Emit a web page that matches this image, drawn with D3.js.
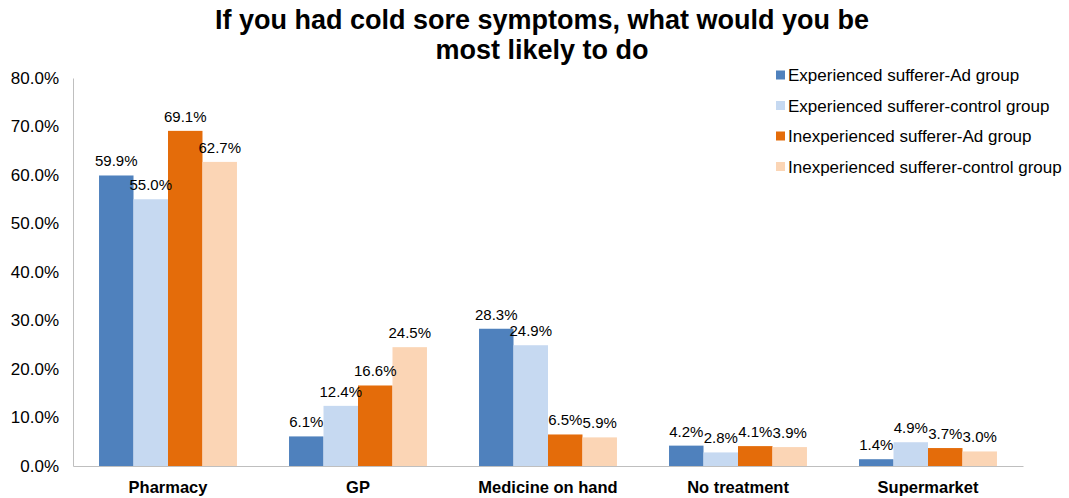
<!DOCTYPE html>
<html><head><meta charset="utf-8">
<script src="https://cdn.jsdelivr.net/npm/d3@7/dist/d3.min.js"></script>
<style>body{margin:0;background:#fff}svg{display:block}text{font-family:"Liberation Sans",Arial,sans-serif}</style>
</head><body><svg id="c" width="1069" height="498"></svg>
<script>
const categories = ["Pharmacy","GP","Medicine on hand","No treatment","Supermarket"];
const seriesNames = ["Experienced sufferer-Ad group","Experienced sufferer-control group","Inexperienced sufferer-Ad group","Inexperienced sufferer-control group"];
const expAd = [59.9, 6.1, 28.3, 4.2, 1.4];
const expCtrl = [55.0, 12.4, 24.9, 2.8, 4.9];
const inexpAd = [69.1, 16.6, 6.5, 4.1, 3.7];
const inexpCtrl = [62.7, 24.5, 5.9, 3.9, 3.0];
const yTicks = [0,10,20,30,40,50,60,70,80];
const colors = ["#4F81BD","#C6D9F1","#E46C0A","#FBD5B5"];
const titleLines = ["If you had cold sore symptoms, what would you be","most likely to do"];

const series = [expAd, expCtrl, inexpAd, inexpCtrl];
const svg = d3.select("#c");
const mLeft = 73, mRight = 1023, mTop = 78, mBottom = 466;

const x = d3.scaleBand().domain(categories).range([mLeft, mRight]).paddingInner(0.274).paddingOuter(0.137);
const xs = d3.scaleBand().domain(d3.range(4)).range([0, x.bandwidth()]);
const y = d3.scaleLinear().domain([0, 80]).range([mBottom, mTop]);

// title
svg.append("g").selectAll("text").data(titleLines).join("text")
  .attr("x", 542).attr("y", (d,i) => 29 + i*30)
  .attr("text-anchor","middle").attr("font-size", 27).attr("font-weight","bold").attr("fill","#000")
  .text(d => d);

// y axis
const yAxis = d3.axisLeft(y).tickValues(yTicks).tickFormat(d => d.toFixed(1) + "%").tickSize(0).tickPadding(14);
const gy = svg.append("g").attr("transform", `translate(${mLeft},0)`).call(yAxis);
gy.select(".domain").attr("stroke","#BFBFBF");
gy.selectAll("text").attr("font-size", 17).attr("fill","#000").attr("font-family","Liberation Sans, Arial, sans-serif");

// bars
const groups = svg.append("g").selectAll("g").data(categories).join("g")
  .attr("transform", c => `translate(${x(c)},0)`);
groups.selectAll("rect").data((c,ci) => series.map((s,si) => ({si, v: s[ci]}))).join("rect")
  .attr("x", d => xs(d.si)).attr("width", xs.bandwidth())
  .attr("y", d => y(d.v)).attr("height", d => y(0) - y(d.v))
  .attr("fill", d => colors[d.si]);
groups.selectAll("text").data((c,ci) => series.map((s,si) => ({si, v: s[ci]}))).join("text")
  .attr("x", d => xs(d.si) + xs.bandwidth()/2).attr("y", d => y(d.v) - 9)
  .attr("text-anchor","middle").attr("font-size", 15).attr("fill","#000")
  .text(d => d.v.toFixed(1) + "%");

// x axis
const xAxis = d3.axisBottom(x).tickSize(0).tickPadding(15);
const gx = svg.append("g").attr("transform", `translate(0,${mBottom})`).call(xAxis);
gx.select(".domain").attr("stroke","#BFBFBF");
gx.selectAll("text").attr("font-size", 16.5).attr("font-weight","bold").attr("fill","#000").attr("font-family","Liberation Sans, Arial, sans-serif");

// legend
const lg = svg.append("g").selectAll("g").data(seriesNames).join("g")
  .attr("transform", (d,i) => `translate(776,${75 + i*30.5})`);
lg.append("rect").attr("x",0).attr("y",-4.5).attr("width",9).attr("height",9).attr("fill",(d,i)=>colors[i]);
lg.append("text").attr("x",12).attr("y",6).attr("font-size",17).attr("fill","#000").text(d=>d);
</script></body></html>
